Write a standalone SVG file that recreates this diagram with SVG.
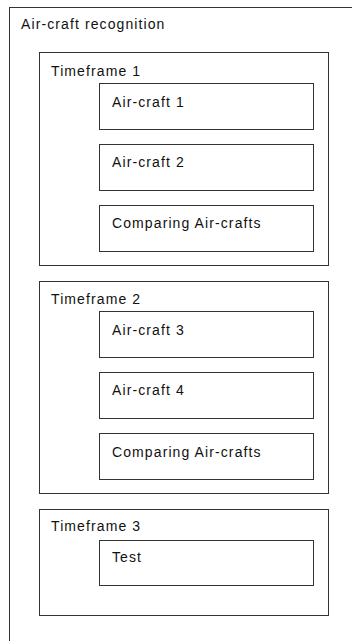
<svg xmlns="http://www.w3.org/2000/svg" width="352" height="641" viewBox="0 0 352 641">
<style>
rect{fill:#fff;stroke:#333;stroke-width:1}
text{font-family:"Liberation Sans",Arial,sans-serif;font-size:14px;letter-spacing:1.1px;fill:#111}
</style>
<rect x="0" y="0" width="352" height="641" style="stroke:none"/>
<g id="air-craft-recognition">
<rect x="9.5" y="7.5" width="350" height="650"/>
<text x="21" y="29">Air-craft recognition</text>
</g>
<g id="timeframe-1">
<rect x="39.5" y="52.5" width="289" height="213"/>
<text x="51" y="76">Timeframe 1</text>
</g>
<g id="air-craft-1">
<rect x="99.5" y="83.5" width="214" height="46"/>
<text x="112" y="107">Air-craft 1</text>
</g>
<g id="air-craft-2">
<rect x="99.5" y="144.5" width="214" height="46"/>
<text x="112" y="167">Air-craft 2</text>
</g>
<g id="comparing-1">
<rect x="99.5" y="205.5" width="214" height="46"/>
<text x="112" y="228">Comparing Air-crafts</text>
</g>
<g id="timeframe-2">
<rect x="39.5" y="281.5" width="289" height="212"/>
<text x="51" y="304">Timeframe 2</text>
</g>
<g id="air-craft-3">
<rect x="99.5" y="311.5" width="214" height="46"/>
<text x="112" y="335">Air-craft 3</text>
</g>
<g id="air-craft-4">
<rect x="99.5" y="372.5" width="214" height="46"/>
<text x="112" y="395">Air-craft 4</text>
</g>
<g id="comparing-2">
<rect x="99.5" y="433.5" width="214" height="46"/>
<text x="112" y="457">Comparing Air-crafts</text>
</g>
<g id="timeframe-3">
<rect x="39.5" y="509.5" width="289" height="106"/>
<text x="51" y="531">Timeframe 3</text>
</g>
<g id="test">
<rect x="99.5" y="540.5" width="214" height="45"/>
<text x="112" y="562">Test</text>
</g>
<g id="connectors"/>
</svg>
